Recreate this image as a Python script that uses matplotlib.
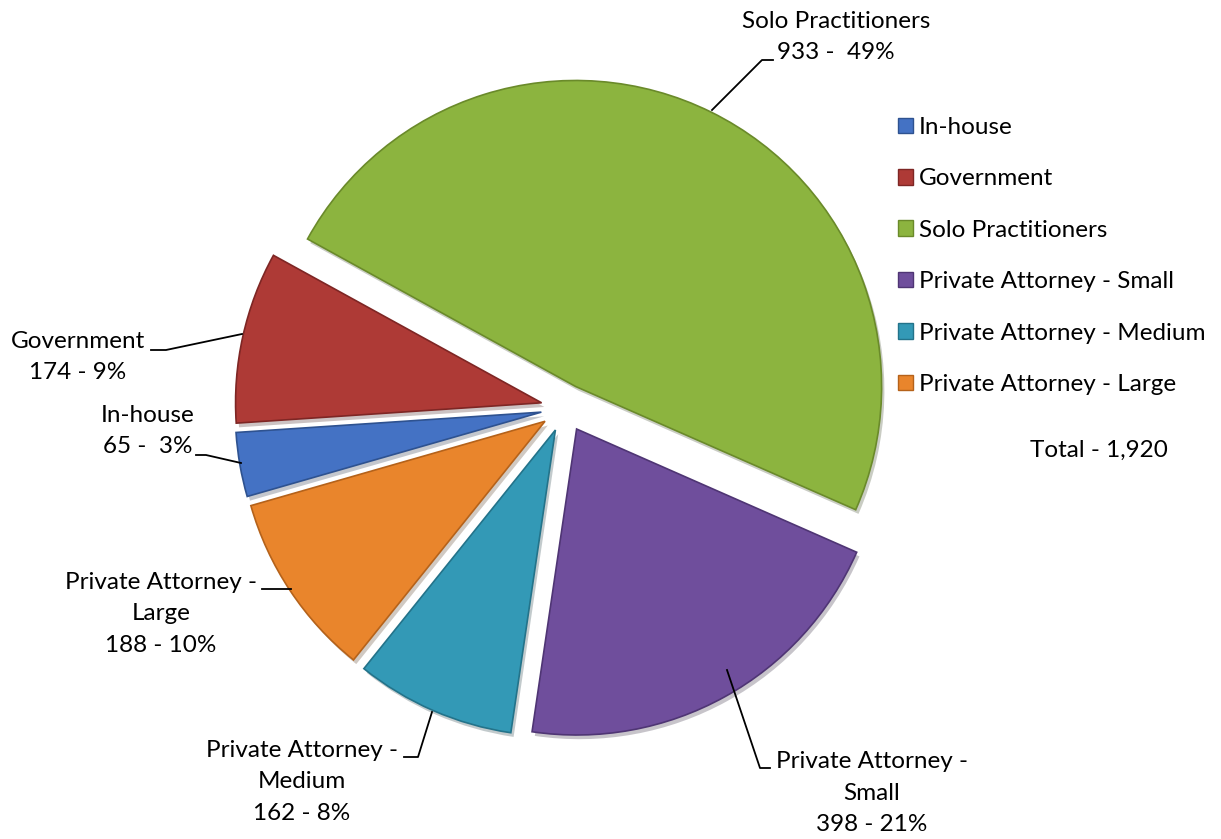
import numpy as np
from matplotlib import pyplot as plt
from matplotlib.patches import Patch
import matplotlib.patheffects as pe

categories = ['In-house', 'Government', 'Solo Practitioners',
              'Private Attorney - Small', 'Private Attorney - Medium',
              'Private Attorney - Large']
counts = [65, 174, 933, 398, 162, 188]
pct_labels = ['65 -  3%', '174 - 9%', '933 -  49%', '398 - 21%', '162 - 8%', '188 - 10%']
name_labels = ['In-house', 'Government', 'Solo Practitioners',
               'Private Attorney -\nSmall', 'Private Attorney -\nMedium',
               'Private Attorney -\nLarge']
total = sum(counts)

colors = ['#4472C4', '#AE3A36', '#8CB43F', '#6F4E9C', '#3399B6', '#E9852C']
edges = ['#2E5290', '#7E2624', '#6A8A2A', '#4F3574', '#23738A', '#B5621A']

W, H = 1221, 839
fig = plt.figure(figsize=(W / 100, H / 100), dpi=100)
ax = fig.add_axes([0, 0, 1, 1])

# pie laid out in pixel-like data coords (y up); explode is in data units here
cx, cy, r = 565, H - 408, 306
wedges, _ = ax.pie(counts, colors=colors, startangle=196, counterclock=False,
                   center=(cx, cy), radius=r, explode=[24] * 6,
                   wedgeprops=dict(linewidth=1.2))
for w, ec in zip(wedges, edges):
    w.set_edgecolor(ec)
    w.set_path_effects([pe.SimplePatchShadow(offset=(2, -3), alpha=0.25), pe.Normal()])

ax.set_xlim(0, W)
ax.set_ylim(0, H)
ax.set_aspect('equal')
ax.axis('off')

font = dict(family='Lato', fontsize=17.5, color='black')

# data labels (image coords -> y flipped)
label_pos = [(148, 431), (78, 357), (836, 37), (872, 793), (302, 782), (161, 614)]
for name, pl, (lx, ly) in zip(name_labels, pct_labels, label_pos):
    ax.text(lx, H - ly, name + '\n' + pl, ha='center', va='center',
            multialignment='center', linespacing=1.62, **font)

# leader lines
leaders = [
    [(196, 455), (206, 455), (241, 463)],
    [(151, 350), (166, 350), (242, 334)],
    [(773, 60), (762, 60), (712, 110)],
    [(770, 768), (760, 768), (727, 670)],
    [(404, 757), (418, 757), (432, 712)],
    [(262, 589), (291, 589)],
]
for pts in leaders:
    xs = [p[0] for p in pts]
    ys = [H - p[1] for p in pts]
    ax.plot(xs, ys, color='black', lw=1.3)

handles = [Patch(facecolor=c, edgecolor=e, label=lab)
           for c, e, lab in zip(colors, edges, categories)]
ax.legend(handles=handles, loc='upper left', bbox_to_anchor=(898 / W, 1 - 117 / H),
          frameon=False, prop=dict(family='Lato', size=17.5),
          handlelength=0.6, handleheight=0.6, handletextpad=0.25,
          labelspacing=1.25, borderaxespad=0, borderpad=0)

ax.text(1099, H - 450, 'Total - ' + f'{total:,}', ha='center', va='center', **font)

fig.savefig('out.png', dpi=100)
